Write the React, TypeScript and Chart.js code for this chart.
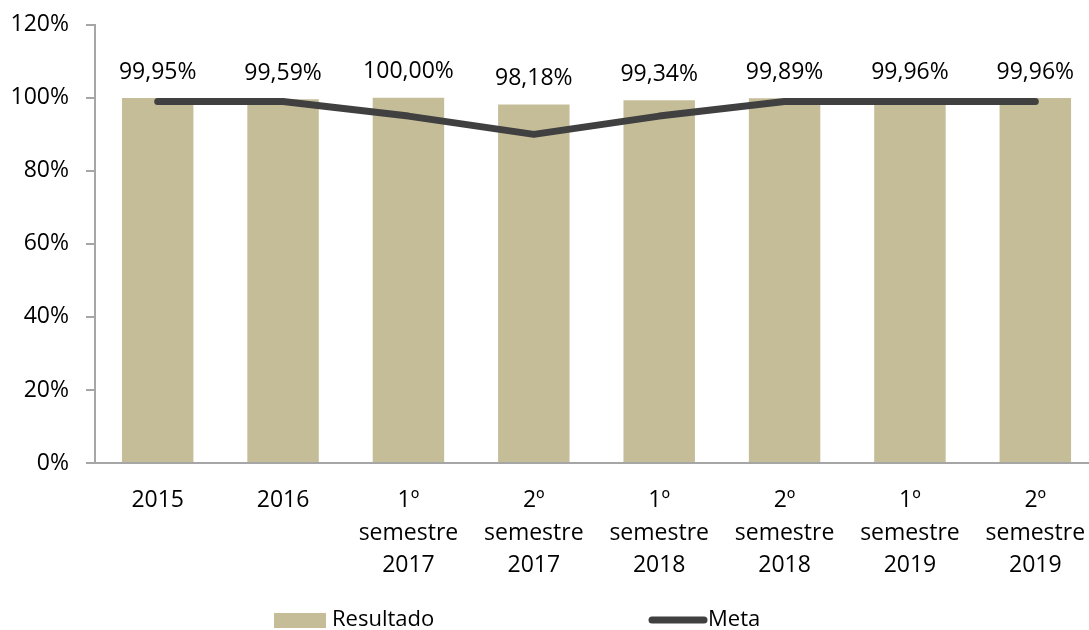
import React, { useEffect, useRef } from "react";
import { Chart, registerables } from "chart.js";

Chart.register(...registerables);

const categories: (string | string[])[] = [
  "2015",
  "2016",
  ["1º", "semestre", "2017"],
  ["2º", "semestre", "2017"],
  ["1º", "semestre", "2018"],
  ["2º", "semestre", "2018"],
  ["1º", "semestre", "2019"],
  ["2º", "semestre", "2019"],
];
const resultado = [99.95, 99.59, 100.0, 98.18, 99.34, 99.89, 99.96, 99.96];
const meta = [99, 99, 95, 90, 95, 99, 99, 99];
const yTicks = [0, 20, 40, 60, 80, 100, 120];

const BAR_COLOR = "#C4BD97";
const LINE_COLOR = "#404040";
const AXIS_COLOR = "#A6A6A6";
const FONT = "'Open Sans', sans-serif";
const SHIFT = 6;

const fmt = (v: number) => v.toFixed(2).replace(".", ",") + "%";

const dataLabelPlugin = {
  id: "dataLabels",
  afterDatasetsDraw(chart: any) {
    const ctx = chart.ctx;
    const meta0 = chart.getDatasetMeta(0);
    ctx.save();
    ctx.font = `23px ${FONT}`;
    ctx.fillStyle = "#000";
    ctx.textAlign = "center";
    ctx.textBaseline = "middle";
    meta0.data.forEach((el: any, i: number) => {
      ctx.fillText(fmt(resultado[i]), el.x, el.y - 26);
    });
    ctx.restore();
  },
};

const legendPlugin = {
  id: "customLegend",
  afterDraw(chart: any) {
    const ctx = chart.ctx;
    const y = 620 + SHIFT;
    ctx.save();
    ctx.fillStyle = BAR_COLOR;
    ctx.fillRect(274, y - 7, 52, 15);
    ctx.strokeStyle = LINE_COLOR;
    ctx.lineWidth = 7;
    ctx.lineCap = "round";
    ctx.beginPath();
    ctx.moveTo(652, y);
    ctx.lineTo(704, y);
    ctx.stroke();
    ctx.font = `22px ${FONT}`;
    ctx.fillStyle = "#000";
    ctx.textAlign = "left";
    ctx.textBaseline = "middle";
    ctx.fillText("Resultado", 332, y);
    ctx.fillText("Meta", 708, y);
    ctx.restore();
  },
};

export default function App() {
  const ref = useRef<HTMLCanvasElement>(null);
  useEffect(() => {
    if (!ref.current) return;
    const chart = new Chart(ref.current, {
      type: "bar",
      data: {
        labels: categories as any,
        datasets: [
          {
            type: "bar",
            label: "Resultado",
            data: resultado,
            backgroundColor: BAR_COLOR,
            categoryPercentage: 1,
            barPercentage: 0.57,
            order: 1,
          },
          {
            type: "line",
            label: "Meta",
            data: meta,
            borderColor: LINE_COLOR,
            borderWidth: 7,
            borderCapStyle: "round",
            borderJoinStyle: "round",
            pointRadius: 0,
            tension: 0,
            order: 0,
          } as any,
        ],
      },
      options: {
        responsive: false,
        animation: false,
        layout: { padding: { top: 18, right: 2, bottom: 0, left: 0 } },
        plugins: {
          legend: { display: false },
          tooltip: { enabled: false },
        },
        scales: {
          x: {
            grid: { display: false },
            border: { display: true, color: AXIS_COLOR, width: 2 },
            ticks: {
              color: "#000",
              font: { family: FONT, size: 23, lineHeight: 1.42 },
              padding: 13,
              maxRotation: 0,
              autoSkip: false,
            },
            afterFit(scale: any) {
              scale.height = 167;
            },
          },
          y: {
            min: 0,
            max: 120,
            afterBuildTicks(scale: any) {
              scale.ticks = yTicks.map((v) => ({ value: v }));
            },
            grid: {
              display: true,
              drawOnChartArea: false,
              drawTicks: true,
              tickLength: 9,
              color: AXIS_COLOR,
              lineWidth: 2,
            },
            border: { display: true, color: AXIS_COLOR, width: 2 },
            ticks: {
              color: "#000",
              font: { family: FONT, size: 23 },
              padding: 17,
              callback: (v: any) => v + "%",
            },
            afterFit(scale: any) {
              scale.width = 95;
            },
          },
        },
      },
      plugins: [dataLabelPlugin, legendPlugin],
    });
    return () => chart.destroy();
  }, []);
  return (
    <div
      style={{
        position: "fixed",
        left: 0,
        top: 0,
        width: 1089,
        height: 630,
        overflow: "hidden",
        background: "#fff",
      }}
    >
      <canvas
        ref={ref}
        width={1100}
        height={630 + SHIFT}
        style={{ display: "block", position: "absolute", left: 0, top: -SHIFT }}
      />
    </div>
  );
}
